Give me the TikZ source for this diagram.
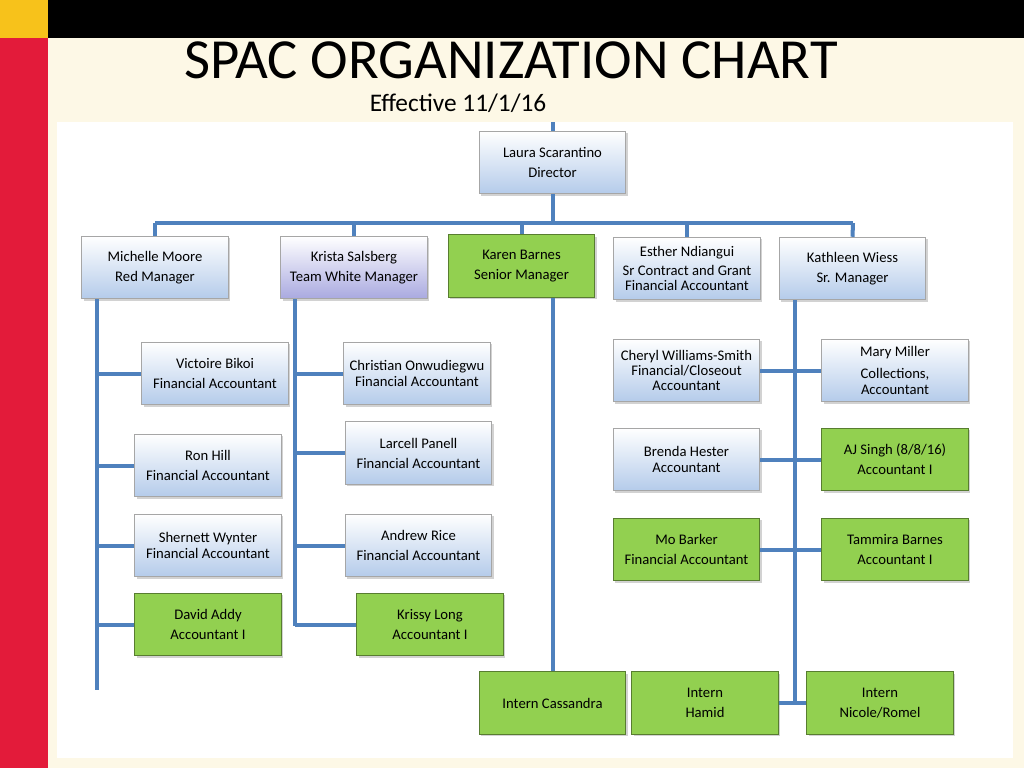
\documentclass[tikz,border=0pt]{standalone}
\usepackage{fontspec}
\setmainfont{Carlito}
\usetikzlibrary{shadows}
\definecolor{cream}{HTML}{FDF8E6}
\definecolor{redbar}{HTML}{E31B3A}
\definecolor{yel}{HTML}{F7C21B}
\definecolor{lblue}{HTML}{B4CBEA}
\definecolor{lpurp}{HTML}{A9A9E0}
\definecolor{grn}{HTML}{92D050}
\definecolor{line}{HTML}{4F81BD}
\tikzset{
 bx/.style={draw=gray!70,line width=0.6pt,minimum width=110pt,minimum height=47pt,align=center,font=\fontsize{11}{15}\selectfont,inner sep=1pt,drop shadow={shadow xshift=1.5pt,shadow yshift=-1.5pt,opacity=0.35}},
 tight/.style={font=\fontsize{11}{11.5}\selectfont},
 bluebox/.style={bx,top color=white,bottom color=lblue},
 purpbox/.style={bx,top color=white,bottom color=lpurp},
 greenbox/.style={bx,fill=grn,draw=grn!60!black},
 conn/.style={draw=line,line width=3pt}
}
\begin{document}
\begin{tikzpicture}[x=0.75pt,y=-0.75pt]
\fill[cream] (0,0) rectangle (1024,768);
\useasboundingbox (0,0) rectangle (1024,768);
\fill[black] (48,0) rectangle (1024,38);
\fill[yel] (0,0) rectangle (48,38);
\fill[redbar] (0,38) rectangle (48,768);
\fill[white] (57,122) rectangle (1013,758);
\node (title) at (511,60) {\fontsize{42.5}{42.5}\selectfont SPAC ORGANIZATION CHART};
\node (eff) at (458,103) {\fontsize{19}{19}\selectfont Effective 11/1/16};
\draw[conn] (552.5,122) coordinate (top) -- (552.5,131);
\node[bluebox] (laura) at (552.5,162.5) {Laura Scarantino\\Director};
\node[bluebox] (michelle) at (155,267.5) {Michelle Moore\\Red Manager};
\node[purpbox] (krista) at (354,267.5) {Krista Salsberg\\Team White Manager};
\node[greenbox] (karen) at (521.5,266) {Karen Barnes\\Senior Manager};
\node[bluebox,tight] (esther) at (687,268.5) {Esther Ndiangui\\[3pt]Sr Contract and Grant\\Financial Accountant};
\node[bluebox] (kathleen) at (852.5,268.5) {Kathleen Wiess\\Sr. Manager};
\node[bluebox] (victoire) at (215,373.5) {Victoire Bikoi\\Financial Accountant};
\node[bluebox,tight] (christian) at (417,373.5) {Christian Onwudiegwu\\Financial Accountant};
\node[bluebox] (larcell) at (418.5,453) {Larcell Panell\\Financial Accountant};
\node[bluebox] (andrew) at (418.5,545.5) {Andrew Rice\\Financial Accountant};
\node[greenbox] (krissy) at (430,624.5) {Krissy Long\\Accountant I};
\node[bluebox] (ron) at (208,465.5) {Ron Hill\\Financial Accountant};
\node[bluebox,tight] (shernett) at (208,545.5) {Shernett Wynter\\Financial Accountant};
\node[greenbox] (david) at (208,624.5) {David Addy\\Accountant I};
\node[bluebox,tight] (cheryl) at (686.5,370.5) {Cheryl Williams-Smith\\Financial/Closeout\\Accountant};
\node[bluebox,tight] (mary) at (895,370.5) {Mary Miller\\[5pt]Collections,\\Accountant};
\node[bluebox,tight] (brenda) at (686.5,459.5) {Brenda Hester\\Accountant};
\node[greenbox] (aj) at (895,459.5) {AJ Singh (8/8/16)\\Accountant I};
\node[greenbox] (mo) at (686.5,549.5) {Mo Barker\\Financial Accountant};
\node[greenbox] (tammira) at (895,549.5) {Tammira Barnes\\Accountant I};
\node[greenbox] (cassandra) at (552.5,703) {Intern Cassandra};
\node[greenbox] (hamid) at (705,703) {Intern\\Hamid};
\node[greenbox] (nicole) at (880,703) {Intern\\Nicole/Romel};
\coordinate (bar) at (552.5,223);
\coordinate (barL) at (155,223);
\coordinate (barR) at (853,223);
\draw[conn] (laura.south) -- (bar);
\draw[conn] (barL) -- (barR);
\draw[conn] (barL) -- (michelle.north);
\draw[conn] (krista.north) -- (krista.north |- barL);
\draw[conn] (karen.north) -- (karen.north |- barL);
\draw[conn] (esther.north) -- (esther.north |- barL);
\draw[conn] (barR) -- (kathleen.north);
\coordinate (mc) at (97,299);
\draw[conn] (mc) -- (97,690);
\draw[conn] (victoire.west) -- (victoire.west -| mc);
\draw[conn] (ron.west) -- (ron.west -| mc);
\draw[conn] (shernett.west) -- (shernett.west -| mc);
\draw[conn] (david.west) -- (david.west -| mc);
\coordinate (kc) at (295,299);
\draw[conn] (kc) -- (295,625.5);
\draw[conn] (christian.west) -- (christian.west -| kc);
\draw[conn] (larcell.west) -- (larcell.west -| kc);
\draw[conn] (andrew.west) -- (andrew.west -| kc);
\draw[conn] (krissy.west) -- (krissy.west -| kc);
\draw[conn] (karen.south -| laura.south) -- (cassandra.north);
\coordinate (wc) at (795,300);
\draw[conn] (wc) -- (795,703);
\draw[conn] (cheryl.east) -- (mary.west);
\draw[conn] (brenda.east) -- (aj.west);
\draw[conn] (mo.east) -- (tammira.west);
\draw[conn] (hamid.east) -- (nicole.west);
\end{tikzpicture}
\end{document}
